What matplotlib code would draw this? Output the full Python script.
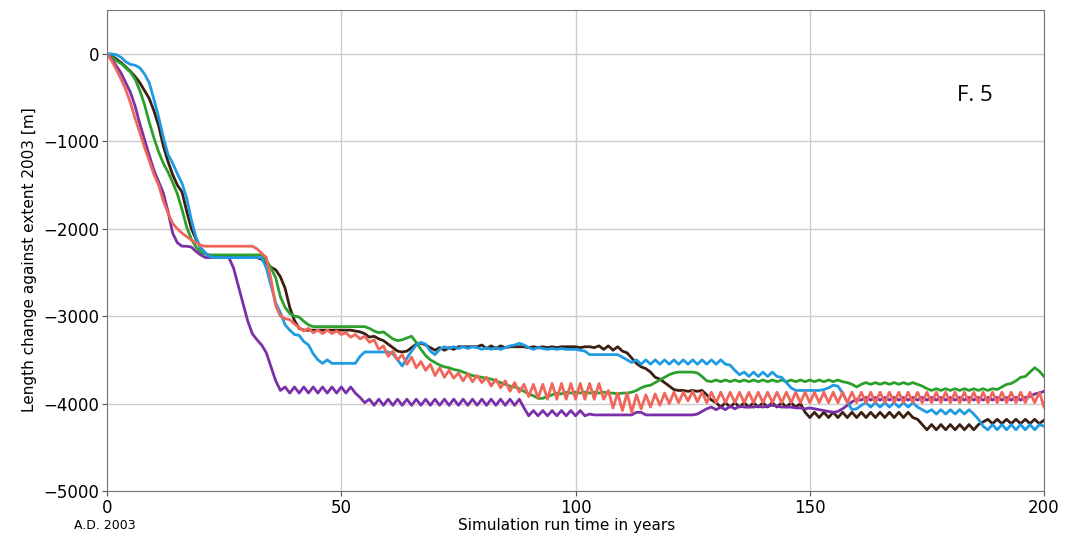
import numpy as np
import matplotlib.pyplot as plt

# simulated glacier length change (m) vs. run time, one value per year 0..200
years = np.arange(0, 201)

brown = [0, -20, -60, -100, -150, -200, -260, -330, -420, -510,
	-650, -820, -1050, -1230, -1380, -1500, -1580, -1800, -2000, -2120,
	-2220, -2280, -2320, -2330, -2330, -2330, -2330, -2330, -2330, -2330,
	-2330, -2330, -2330, -2350, -2400, -2440, -2470, -2550, -2680, -2900,
	-3050, -3140, -3160, -3160, -3160, -3160, -3160, -3160, -3160, -3160,
	-3160, -3160, -3160, -3170, -3180, -3200, -3240, -3230, -3260, -3280,
	-3320, -3360, -3400, -3410, -3400, -3360, -3320, -3310, -3330, -3360,
	-3390, -3360, -3390, -3360, -3380, -3350, -3350, -3350, -3350, -3350,
	-3330, -3370, -3340, -3370, -3340, -3360, -3350, -3350, -3350, -3350,
	-3360, -3350, -3360, -3350, -3360, -3350, -3360, -3350, -3350, -3350,
	-3350, -3360, -3350, -3350, -3360, -3340, -3380, -3340, -3390, -3350,
	-3400, -3420, -3480, -3540, -3580, -3600, -3640, -3700, -3720, -3760,
	-3800, -3840, -3850, -3850, -3860, -3850, -3860, -3850, -3900, -3960,
	-3990, -4040, -3990, -4040, -3990, -4040, -3990, -4040, -3990, -4040,
	-3990, -4040, -3990, -4040, -3990, -4040, -3990, -4040, -4000, -4100,
	-4160, -4100, -4160, -4100, -4160, -4100, -4160, -4100, -4160, -4100,
	-4160, -4100, -4160, -4100, -4160, -4100, -4160, -4100, -4160, -4100,
	-4160, -4100, -4160, -4180, -4240, -4300, -4240, -4300, -4240, -4300,
	-4240, -4300, -4240, -4300, -4240, -4300, -4240, -4210, -4180, -4230,
	-4180, -4230, -4180, -4230, -4180, -4230, -4180, -4230, -4180, -4230,
	-4190]

blue = [0, 0, -10, -40, -90, -120, -130, -160, -230, -330,
	-520, -720, -950, -1150, -1250, -1370, -1480, -1650, -1900, -2100,
	-2220, -2280, -2320, -2330, -2330, -2330, -2330, -2330, -2330, -2330,
	-2330, -2330, -2330, -2330, -2450, -2650, -2850, -2960, -3100, -3160,
	-3210, -3220, -3290, -3330, -3430, -3500, -3540, -3500, -3540, -3540,
	-3540, -3540, -3540, -3540, -3460, -3410, -3410, -3410, -3410, -3410,
	-3410, -3430, -3500, -3570, -3480, -3400, -3330, -3300, -3320, -3400,
	-3440, -3380, -3350, -3370, -3350, -3370, -3350, -3370, -3350, -3360,
	-3380, -3360, -3380, -3360, -3380, -3360, -3340, -3330, -3310, -3330,
	-3360, -3380, -3360, -3370, -3380, -3370, -3380, -3370, -3380, -3380,
	-3380, -3390, -3400, -3440, -3440, -3440, -3440, -3440, -3440, -3440,
	-3470, -3500, -3530, -3500, -3550, -3500, -3550, -3500, -3550, -3500,
	-3550, -3500, -3550, -3500, -3550, -3500, -3550, -3500, -3550, -3500,
	-3550, -3500, -3550, -3560, -3620, -3670, -3640, -3690, -3640, -3690,
	-3640, -3690, -3640, -3690, -3700, -3760, -3820, -3850, -3850, -3850,
	-3850, -3850, -3850, -3840, -3820, -3790, -3800, -3880, -3980, -4070,
	-4060, -4020, -3990, -4040, -3990, -4040, -3990, -4040, -3990, -4040,
	-3990, -4040, -3990, -4040, -4070, -4100, -4070, -4120, -4070, -4120,
	-4070, -4120, -4070, -4120, -4070, -4120, -4180, -4260, -4300, -4240,
	-4300, -4240, -4300, -4240, -4300, -4240, -4300, -4240, -4300, -4240,
	-4260]

green = [0, -30, -80, -110, -160, -210, -290, -420, -580, -780,
	-960, -1120, -1250, -1350, -1470, -1600, -1780, -1980, -2120, -2210,
	-2270, -2290, -2300, -2300, -2300, -2300, -2300, -2300, -2300, -2300,
	-2300, -2300, -2300, -2300, -2360, -2450, -2560, -2780, -2900, -2970,
	-3000, -3010, -3060, -3100, -3120, -3120, -3120, -3120, -3120, -3120,
	-3120, -3120, -3120, -3120, -3120, -3120, -3140, -3170, -3190, -3180,
	-3220, -3260, -3280, -3270, -3250, -3230, -3300, -3380, -3450, -3500,
	-3530, -3560, -3580, -3590, -3610, -3620, -3640, -3660, -3680, -3690,
	-3700, -3710, -3720, -3740, -3760, -3780, -3800, -3810, -3830, -3860,
	-3890, -3910, -3940, -3940, -3920, -3900, -3880, -3890, -3870, -3880,
	-3870, -3880, -3870, -3880, -3870, -3880, -3870, -3880, -3880, -3890,
	-3880, -3880, -3870, -3850, -3820, -3800, -3790, -3760, -3730, -3700,
	-3670, -3650, -3640, -3640, -3640, -3640, -3650, -3690, -3740, -3750,
	-3730, -3750, -3730, -3750, -3730, -3750, -3730, -3750, -3730, -3750,
	-3730, -3750, -3730, -3750, -3730, -3750, -3730, -3750, -3730, -3750,
	-3730, -3750, -3730, -3750, -3730, -3750, -3730, -3750, -3760, -3780,
	-3810, -3780, -3760, -3780, -3760, -3780, -3760, -3780, -3760, -3780,
	-3760, -3780, -3760, -3780, -3800, -3830, -3850, -3830, -3850, -3830,
	-3850, -3830, -3850, -3830, -3850, -3830, -3850, -3830, -3850, -3830,
	-3840, -3810, -3780, -3770, -3740, -3700, -3690, -3640, -3590, -3630,
	-3690]

red = [0, -80, -180, -290, -410, -560, -740, -900, -1070, -1220,
	-1380, -1500, -1680, -1820, -1940, -2000, -2050, -2090, -2130, -2160,
	-2190, -2200, -2200, -2200, -2200, -2200, -2200, -2200, -2200, -2200,
	-2200, -2200, -2230, -2280, -2330, -2580, -2880, -3000, -3030, -3040,
	-3090, -3130, -3170, -3140, -3190, -3160, -3200, -3160, -3200, -3170,
	-3210, -3190, -3240, -3210, -3260, -3230, -3300, -3270, -3380, -3340,
	-3460, -3400, -3500, -3440, -3550, -3470, -3590, -3520, -3620, -3550,
	-3680, -3590, -3700, -3620, -3710, -3650, -3740, -3660, -3750, -3680,
	-3760, -3700, -3800, -3720, -3820, -3740, -3860, -3760, -3870, -3780,
	-3920, -3780, -3940, -3780, -3950, -3770, -3950, -3770, -3950, -3770,
	-3950, -3770, -3950, -3770, -3950, -3770, -3950, -3850, -4050, -3880,
	-4080, -3880, -4100, -3900, -4060, -3900, -4040, -3890, -4020, -3880,
	-4000, -3870, -3990, -3870, -3970, -3860, -3980, -3870, -3990, -3870,
	-3990, -3870, -3990, -3870, -3990, -3870, -3990, -3870, -3990, -3870,
	-3990, -3870, -3990, -3870, -3990, -3870, -3990, -3870, -3990, -3870,
	-3990, -3870, -3990, -3870, -3990, -3870, -3990, -3870, -3990, -3870,
	-3990, -3870, -3990, -3870, -3990, -3870, -3990, -3870, -3990, -3870,
	-3990, -3870, -3990, -3870, -3990, -3870, -3990, -3870, -3990, -3870,
	-3990, -3870, -3990, -3870, -3990, -3870, -3990, -3870, -3990, -3870,
	-3990, -3870, -3990, -3870, -3990, -3870, -3990, -3870, -3990, -3870,
	-4040]

purple = [0, -60, -140, -220, -330, -440, -600, -800, -980, -1160,
	-1330, -1460, -1590, -1800, -2050, -2160, -2200, -2200, -2210, -2260,
	-2300, -2330, -2330, -2330, -2330, -2330, -2330, -2450, -2650, -2850,
	-3050, -3200, -3270, -3330, -3420, -3580, -3740, -3850, -3810, -3880,
	-3810, -3880, -3810, -3880, -3810, -3880, -3810, -3880, -3810, -3880,
	-3810, -3880, -3810, -3880, -3930, -3990, -3950, -4020, -3950, -4020,
	-3950, -4020, -3950, -4020, -3950, -4020, -3950, -4020, -3950, -4020,
	-3950, -4020, -3950, -4020, -3950, -4020, -3950, -4020, -3950, -4020,
	-3950, -4020, -3950, -4020, -3950, -4020, -3950, -4020, -3950, -4050,
	-4140, -4080, -4140, -4080, -4140, -4080, -4140, -4080, -4140, -4080,
	-4140, -4080, -4140, -4120, -4130, -4130, -4130, -4130, -4130, -4130,
	-4130, -4130, -4130, -4100, -4100, -4130, -4130, -4130, -4130, -4130,
	-4130, -4130, -4130, -4130, -4130, -4130, -4120, -4090, -4060, -4040,
	-4070, -4040, -4070, -4030, -4060, -4030, -4040, -4040, -4040, -4030,
	-4040, -4030, -4020, -4030, -4040, -4040, -4040, -4050, -4050, -4060,
	-4050, -4060, -4070, -4080, -4090, -4100, -4090, -4060, -4020, -3980,
	-3950, -3960, -3930, -3960, -3930, -3960, -3930, -3960, -3930, -3960,
	-3930, -3960, -3930, -3960, -3930, -3960, -3930, -3960, -3930, -3960,
	-3930, -3960, -3930, -3960, -3930, -3960, -3930, -3960, -3930, -3960,
	-3930, -3960, -3930, -3960, -3930, -3960, -3930, -3920, -3890, -3880,
	-3860]

fig = plt.figure(figsize=(10.77, 5.37), dpi=100)
ax = fig.add_axes([0.0994, 0.0857, 0.87, 0.8953])

lw = 2.0
ax.plot(years, brown, color='#3b2012', lw=lw)
ax.plot(years, green, color='#2ca02c', lw=lw)
ax.plot(years, purple, color='#7b2fa8', lw=lw)
ax.plot(years, blue, color='#1e9be2', lw=lw)
ax.plot(years, red, color='#f0665a', lw=lw)

ax.set_xlim(0, 200)
ax.set_ylim(-5000, 500)
ax.set_xticks([0, 50, 100, 150, 200])
ax.set_yticks([-5000, -4000, -3000, -2000, -1000, 0])
ax.tick_params(labelsize=12, color='#555555', pad=2)
ax.grid(True, color='#cccccc', lw=1)
ax.set_axisbelow(True)
for s in ax.spines.values():
	s.set_color('#777777')

fig.text(30/1077, 0.516, 'Length change against extent 2003 [m]', rotation=90,
	ha='center', va='center', fontsize=11)
fig.text(567/1077, 0.021, 'Simulation run time in years', ha='center', va='center', fontsize=11)
fig.text(105/1077, 0.021, 'A.D. 2003', ha='center', va='center', fontsize=9)
fig.text(975/1077, 0.823, 'F. 5', ha='center', va='center', fontsize=16, family='Open Sans')

fig.savefig('out.png', dpi=100)
